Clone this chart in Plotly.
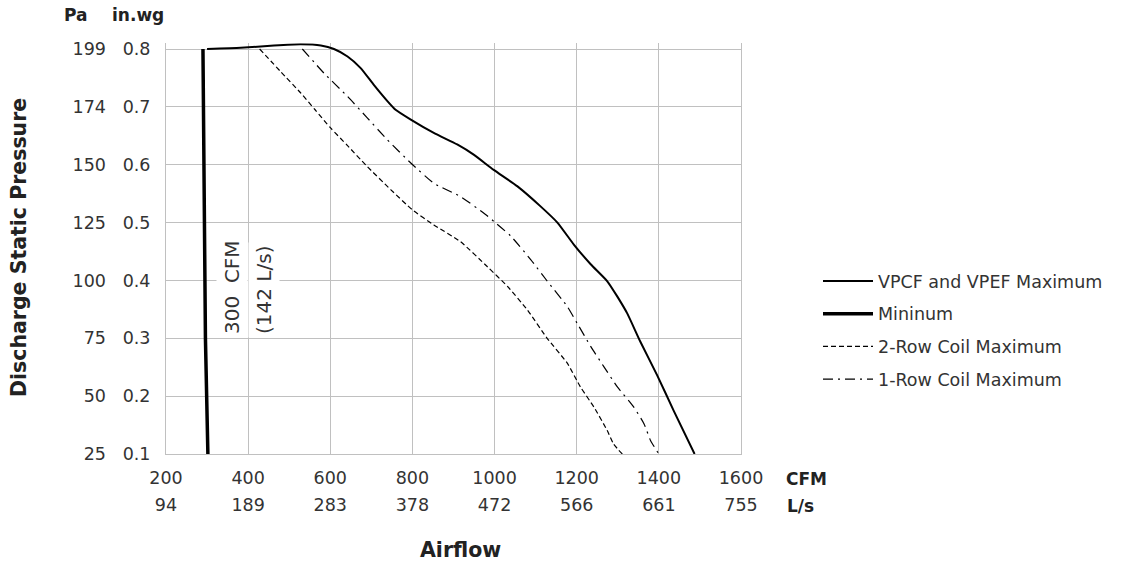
import plotly.graph_objects as go

# ---------------- data ----------------
cfm_ticks = [200, 400, 600, 800, 1000, 1200, 1400, 1600]
ls_ticks = ["94", "189", "283", "378", "472", "566", "661", "755"]
inwg_ticks = [0.1, 0.2, 0.3, 0.4, 0.5, 0.6, 0.7, 0.8]
inwg_text = ["0.1", "0.2", "0.3", "0.4", "0.5", "0.6", "0.7", "0.8"]
pa_ticks = ["25", "50", "75", "100", "125", "150", "174", "199"]

vp_max_cfm = [300, 382, 463, 528, 577, 609, 642, 674, 706, 739, 759, 796, 852, 909, 950,
              998, 1055, 1112, 1153, 1193, 1234, 1274, 1299, 1323, 1355, 1396, 1436, 1487]
vp_max_p = [0.800, 0.802, 0.806, 0.808, 0.806, 0.800, 0.787, 0.767, 0.738, 0.710, 0.695,
            0.678, 0.655, 0.635, 0.617, 0.591, 0.563, 0.528, 0.500, 0.462, 0.428, 0.399,
            0.372, 0.343, 0.294, 0.236, 0.175, 0.100]

min_cfm = [290, 296, 302]
min_p = [0.8, 0.3, 0.1]

row2_cfm = [428, 479, 528, 563, 600, 642, 687, 747, 800, 852, 917, 982, 1031, 1080, 1128,
            1177, 1209, 1242, 1274, 1290, 1311]
row2_p = [0.800, 0.761, 0.724, 0.695, 0.664, 0.633, 0.599, 0.557, 0.522, 0.496, 0.467,
          0.424, 0.390, 0.349, 0.300, 0.257, 0.216, 0.181, 0.141, 0.117, 0.100]

row1_cfm = [532, 585, 642, 690, 739, 796, 852, 917, 978, 1000, 1039, 1088, 1128, 1177, 1201,
            1234, 1266, 1299, 1339, 1364, 1380, 1400]
row1_p = [0.800, 0.758, 0.718, 0.681, 0.643, 0.603, 0.568, 0.545, 0.514, 0.501, 0.477,
          0.436, 0.399, 0.355, 0.326, 0.286, 0.251, 0.216, 0.181, 0.152, 0.123, 0.100]

series_names = ["VPCF and VPEF Maximum", "Mininum", "2-Row Coil Maximum", "1-Row Coil Maximum"]

# ---------------- layout geometry ----------------
W, H = 1121, 563
PX_L, PX_R, PX_T, PX_B = 166, 741, 49, 454
Y_TOP = 0.81                       # small headroom above 0.8 (grid stubs)
PX_TOP = PX_T - (Y_TOP - 0.8) * (PX_B - PX_T) / 0.7
FONT = "DejaVu Sans, Verdana, sans-serif"
TXT = "#333333"
GRID = "#c0c0c0"


def fx(px):
    return px / W


def fy(py):
    return 1 - py / H


fig = go.Figure()

fig.add_trace(go.Scatter(x=vp_max_cfm, y=vp_max_p, mode="lines", name=series_names[0],
                         line=dict(color="black", width=2, shape="spline", smoothing=0.5),
                         legendgroup="a"))
fig.add_trace(go.Scatter(x=min_cfm, y=min_p, mode="lines", name=series_names[1],
                         line=dict(color="black", width=3.5), legendgroup="b"))
fig.add_trace(go.Scatter(x=row2_cfm, y=row2_p, mode="lines", name=series_names[2],
                         line=dict(color="black", width=1.2, dash="5px,3px", shape="spline",
                                   smoothing=0.5), legendgroup="c"))
fig.add_trace(go.Scatter(x=row1_cfm, y=row1_p, mode="lines", name=series_names[3],
                         line=dict(color="black", width=1.2, dash="10px,5px,2px,5px",
                                   shape="spline", smoothing=0.5), legendgroup="d"))

axis_font = dict(family=FONT, size=17.5, color=TXT)

fig.update_layout(
    width=W, height=H,
    margin=dict(l=0, r=0, t=0, b=0),
    paper_bgcolor="white", plot_bgcolor="white",
    font=dict(family=FONT, size=17.5, color=TXT),
    showlegend=True,
    legend=dict(x=fx(818), y=fy(263), xanchor="left", yanchor="top",
                traceorder="grouped", tracegroupgap=7, itemwidth=50,
                font=dict(family=FONT, size=17.5, color=TXT), bgcolor="rgba(0,0,0,0)"),
    xaxis=dict(domain=[fx(PX_L), fx(PX_R)], range=[200, 1600], tickvals=cfm_ticks,
               ticktext=[str(v) for v in cfm_ticks], showgrid=True, gridcolor=GRID,
               gridwidth=1, showline=True, linecolor=GRID, mirror=False, ticks="",
               ticklabelstandoff=8, tickfont=axis_font, zeroline=False, automargin=False,
               anchor="y"),
    xaxis2=dict(overlaying="x", anchor="free", position=fy(PX_B + 30), side="bottom",
                range=[200, 1600], tickvals=cfm_ticks, ticktext=ls_ticks, showgrid=False,
                showline=False, ticks="", ticklabelstandoff=8, tickfont=axis_font,
                zeroline=False, automargin=False),
    yaxis=dict(domain=[fy(PX_B), fy(PX_TOP)], range=[0.1, Y_TOP], tickvals=inwg_ticks,
               ticktext=inwg_text, showgrid=True, gridcolor=GRID, gridwidth=1,
               showline=True, linecolor=GRID, mirror=True, ticks="",
               ticklabelstandoff=11, tickfont=axis_font, zeroline=False, automargin=False,
               anchor="x"),
    yaxis2=dict(overlaying="y", anchor="free", position=fx(116), side="left",
                range=[0.1, Y_TOP], tickvals=inwg_ticks, ticktext=pa_ticks, showgrid=False,
                showline=False, ticks="", ticklabelstandoff=10, tickfont=axis_font,
                zeroline=False, automargin=False),
)

# invisible helper traces so that the overlay axes are rendered
fig.add_trace(go.Scatter(x=[200], y=[0.1], xaxis="x2", yaxis="y", mode="markers",
                         marker=dict(opacity=0), showlegend=False, hoverinfo="skip"))
fig.add_trace(go.Scatter(x=[200], y=[0.1], xaxis="x", yaxis="y2", mode="markers",
                         marker=dict(opacity=0), showlegend=False, hoverinfo="skip"))

bold_small = dict(family=FONT, size=17, color="#222222")
bold_big = dict(family=FONT, size=20.5, color="#222222")

ann = [
    dict(text="<b>Pa</b>", x=fx(75), y=fy(15), font=bold_small),
    dict(text="<b>in.wg</b>", x=fx(138), y=fy(15), font=bold_small),
    dict(text="<b>CFM</b>", x=fx(784), y=fy(479), xanchor="left", font=bold_small),
    dict(text="<b>L/s</b>", x=fx(785), y=fy(506), xanchor="left", font=bold_small),
    dict(text="<b>Airflow</b>", x=fx(460), y=fy(550), font=bold_big),
    dict(text="<b>Discharge Static Pressure</b>", x=fx(19), y=fy(248), textangle=-90,
         font=bold_big),
]
for a in ann:
    a.setdefault("xanchor", "center")
    fig.add_annotation(xref="paper", yref="paper", showarrow=False, yanchor="middle", **a)

# vertical note next to the minimum line
note_font = dict(family=FONT, size=20, color=TXT)
fig.add_annotation(x=fx(232), y=fy(338), xref="paper", yref="paper", text="300  CFM",
                   textangle=-90, showarrow=False, xanchor="center", yanchor="bottom",
                   font=note_font, bgcolor="white", borderpad=3)
fig.add_annotation(x=fx(264), y=fy(338), xref="paper", yref="paper", text="(142 L/s)",
                   textangle=-90, showarrow=False, xanchor="center", yanchor="bottom",
                   font=note_font, bgcolor="white", borderpad=3)

fig.write_html("out.html")
